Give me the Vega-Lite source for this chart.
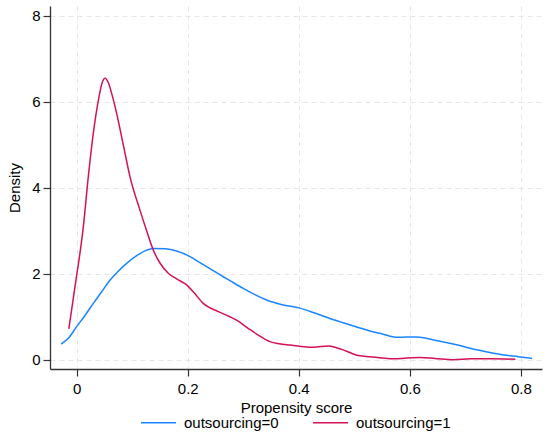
{
  "$schema": "https://vega.github.io/schema/vega-lite/v6.json",
  "description": "Kernel density of propensity score by outsourcing status.",
  "width": 492,
  "height": 363,
  "autosize": {"type": "none"},
  "padding": {"left": 50, "top": 6, "right": 8, "bottom": 69},
  "background": "white",
  "config": {
    "font": "Liberation Sans",
    "view": {"stroke": null},
    "axis": {
      "labelFont": "Liberation Sans",
      "titleFont": "Liberation Sans",
      "labelFontSize": 15,
      "titleFontSize": 15,
      "titleFontWeight": "normal",
      "labelColor": "black",
      "titleColor": "black",
      "domainColor": "#333333",
      "domainWidth": 1.3,
      "tickColor": "#333333",
      "tickWidth": 1.2,
      "tickSize": 7,
      "grid": true,
      "gridColor": "#e6e6e6",
      "gridDash": [5, 4],
      "gridWidth": 1
    }
  },
  "data": {
    "values": [
      {"group": "outsourcing=0", "score": -0.028, "density": 0.365},
      {"group": "outsourcing=0", "score": -0.015, "density": 0.5},
      {"group": "outsourcing=0", "score": 0.0, "density": 0.77},
      {"group": "outsourcing=0", "score": 0.015, "density": 1.03},
      {"group": "outsourcing=0", "score": 0.03, "density": 1.31},
      {"group": "outsourcing=0", "score": 0.045, "density": 1.58},
      {"group": "outsourcing=0", "score": 0.06, "density": 1.85},
      {"group": "outsourcing=0", "score": 0.075, "density": 2.06},
      {"group": "outsourcing=0", "score": 0.09, "density": 2.24},
      {"group": "outsourcing=0", "score": 0.108, "density": 2.42},
      {"group": "outsourcing=0", "score": 0.126, "density": 2.55},
      {"group": "outsourcing=0", "score": 0.138, "density": 2.59},
      {"group": "outsourcing=0", "score": 0.16, "density": 2.58},
      {"group": "outsourcing=0", "score": 0.18, "density": 2.53},
      {"group": "outsourcing=0", "score": 0.204, "density": 2.4},
      {"group": "outsourcing=0", "score": 0.222, "density": 2.26},
      {"group": "outsourcing=0", "score": 0.24, "density": 2.12},
      {"group": "outsourcing=0", "score": 0.264, "density": 1.93},
      {"group": "outsourcing=0", "score": 0.276, "density": 1.84},
      {"group": "outsourcing=0", "score": 0.3, "density": 1.66},
      {"group": "outsourcing=0", "score": 0.32, "density": 1.52},
      {"group": "outsourcing=0", "score": 0.342, "density": 1.39},
      {"group": "outsourcing=0", "score": 0.37, "density": 1.28},
      {"group": "outsourcing=0", "score": 0.402, "density": 1.2},
      {"group": "outsourcing=0", "score": 0.43, "density": 1.08},
      {"group": "outsourcing=0", "score": 0.456, "density": 0.96},
      {"group": "outsourcing=0", "score": 0.48, "density": 0.86},
      {"group": "outsourcing=0", "score": 0.51, "density": 0.74},
      {"group": "outsourcing=0", "score": 0.528, "density": 0.67},
      {"group": "outsourcing=0", "score": 0.55, "density": 0.6},
      {"group": "outsourcing=0", "score": 0.577, "density": 0.52},
      {"group": "outsourcing=0", "score": 0.595, "density": 0.53},
      {"group": "outsourcing=0", "score": 0.613, "density": 0.53},
      {"group": "outsourcing=0", "score": 0.643, "density": 0.46},
      {"group": "outsourcing=0", "score": 0.68, "density": 0.36},
      {"group": "outsourcing=0", "score": 0.721, "density": 0.23},
      {"group": "outsourcing=0", "score": 0.769, "density": 0.11},
      {"group": "outsourcing=0", "score": 0.795, "density": 0.07},
      {"group": "outsourcing=0", "score": 0.82, "density": 0.03},
      {"group": "outsourcing=1", "score": -0.014, "density": 0.72},
      {"group": "outsourcing=1", "score": -0.003, "density": 1.7},
      {"group": "outsourcing=1", "score": 0.012, "density": 3.09},
      {"group": "outsourcing=1", "score": 0.021, "density": 4.26},
      {"group": "outsourcing=1", "score": 0.03, "density": 5.27},
      {"group": "outsourcing=1", "score": 0.04, "density": 6.1},
      {"group": "outsourcing=1", "score": 0.046, "density": 6.45},
      {"group": "outsourcing=1", "score": 0.051, "density": 6.55},
      {"group": "outsourcing=1", "score": 0.057, "density": 6.45},
      {"group": "outsourcing=1", "score": 0.064, "density": 6.15},
      {"group": "outsourcing=1", "score": 0.072, "density": 5.73},
      {"group": "outsourcing=1", "score": 0.084, "density": 5.0},
      {"group": "outsourcing=1", "score": 0.096, "density": 4.26},
      {"group": "outsourcing=1", "score": 0.114, "density": 3.48},
      {"group": "outsourcing=1", "score": 0.126, "density": 3.0},
      {"group": "outsourcing=1", "score": 0.138, "density": 2.55},
      {"group": "outsourcing=1", "score": 0.15, "density": 2.25},
      {"group": "outsourcing=1", "score": 0.165, "density": 2.01},
      {"group": "outsourcing=1", "score": 0.18, "density": 1.88},
      {"group": "outsourcing=1", "score": 0.198, "density": 1.74},
      {"group": "outsourcing=1", "score": 0.212, "density": 1.55},
      {"group": "outsourcing=1", "score": 0.228, "density": 1.31},
      {"group": "outsourcing=1", "score": 0.255, "density": 1.12},
      {"group": "outsourcing=1", "score": 0.276, "density": 1.0},
      {"group": "outsourcing=1", "score": 0.288, "density": 0.92},
      {"group": "outsourcing=1", "score": 0.31, "density": 0.72},
      {"group": "outsourcing=1", "score": 0.33, "density": 0.55},
      {"group": "outsourcing=1", "score": 0.348, "density": 0.42},
      {"group": "outsourcing=1", "score": 0.365, "density": 0.37},
      {"group": "outsourcing=1", "score": 0.384, "density": 0.34},
      {"group": "outsourcing=1", "score": 0.405, "density": 0.31},
      {"group": "outsourcing=1", "score": 0.426, "density": 0.29},
      {"group": "outsourcing=1", "score": 0.453, "density": 0.32},
      {"group": "outsourcing=1", "score": 0.468, "density": 0.28},
      {"group": "outsourcing=1", "score": 0.48, "density": 0.23},
      {"group": "outsourcing=1", "score": 0.495, "density": 0.15},
      {"group": "outsourcing=1", "score": 0.51, "density": 0.09},
      {"group": "outsourcing=1", "score": 0.528, "density": 0.07},
      {"group": "outsourcing=1", "score": 0.55, "density": 0.04},
      {"group": "outsourcing=1", "score": 0.571, "density": 0.02},
      {"group": "outsourcing=1", "score": 0.595, "density": 0.04},
      {"group": "outsourcing=1", "score": 0.619, "density": 0.05},
      {"group": "outsourcing=1", "score": 0.645, "density": 0.03},
      {"group": "outsourcing=1", "score": 0.679, "density": 0.0},
      {"group": "outsourcing=1", "score": 0.71, "density": 0.02},
      {"group": "outsourcing=1", "score": 0.75, "density": 0.02},
      {"group": "outsourcing=1", "score": 0.79, "density": 0.01}
    ]
  },
  "mark": {"type": "line", "strokeWidth": 1.5, "interpolate": "monotone", "clip": true},
  "encoding": {
    "x": {
      "field": "score",
      "type": "quantitative",
      "title": "Propensity score",
      "scale": {"domain": [-0.048, 0.838], "nice": false, "zero": false},
      "axis": {"values": [0, 0.2, 0.4, 0.6, 0.8], "format": ".1~f", "labelPadding": 5, "titlePadding": 4}
    },
    "y": {
      "field": "density",
      "type": "quantitative",
      "title": "Density",
      "scale": {"domain": [-0.216, 8.23], "nice": false, "zero": false},
      "axis": {"values": [0, 2, 4, 6, 8], "labelPadding": 3, "titlePadding": 9}
    },
    "color": {
      "field": "group",
      "type": "nominal",
      "scale": {"domain": ["outsourcing=0", "outsourcing=1"], "range": ["#1a85ff", "#d41159"]},
      "legend": {
        "title": null,
        "orient": "none",
        "legendX": 90,
        "legendY": 398,
        "direction": "horizontal",
        "columns": 2,
        "columnPadding": 31,
        "symbolType": "stroke",
        "symbolSize": 1225,
        "symbolStrokeWidth": 1.5,
        "labelFont": "Liberation Sans",
        "labelFontSize": 15,
        "labelColor": "black",
        "labelOffset": 7
      }
    }
  }
}
